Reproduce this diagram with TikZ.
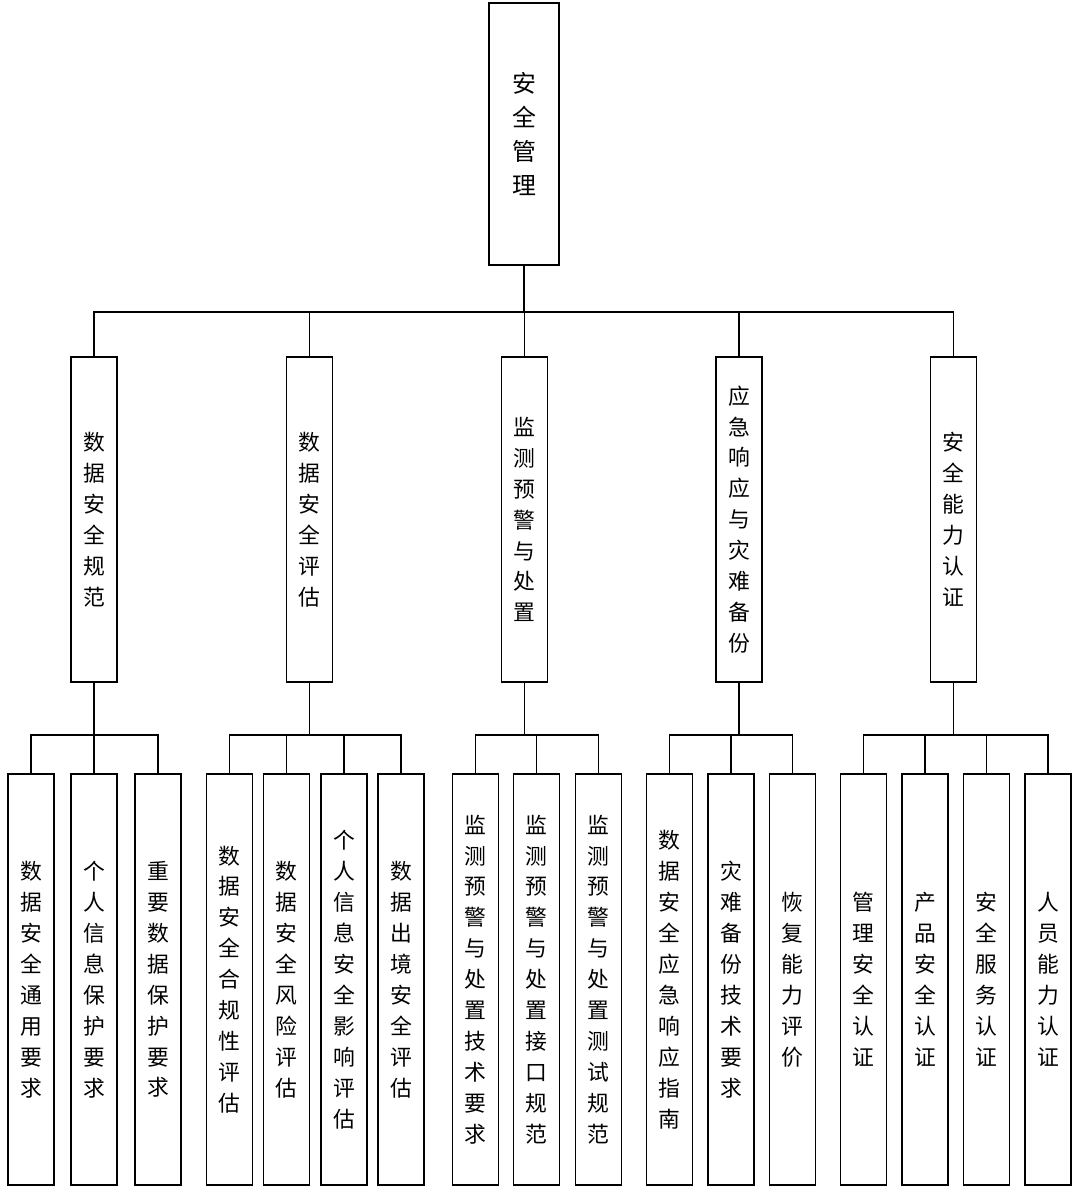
\documentclass[tikz,border=0pt]{standalone}
\usepackage{fontspec}
\newfontfamily\cjk{Noto Sans CJK SC}
\usetikzlibrary{positioning, calc}

\begin{document}
\begin{tikzpicture}[
    x=0.025cm, y=-0.025cm,
    every node/.style={font=\cjk\fontsize{15.5}{22}\selectfont, inner sep=0pt, align=center},
    rootbox/.style={draw, line width=1pt, minimum width=1.75cm, minimum height=6.55cm,
                    font=\cjk\fontsize{17}{24.2}\selectfont},
    catbox/.style={draw, line width=1pt, minimum width=1.15cm, minimum height=8.125cm},
    itembox/.style={draw, line width=1pt, minimum width=1.15cm, minimum height=10.275cm},
    link/.style={line width=1pt}
]
    \useasboundingbox (0,0) rectangle (1080,1193);

    % top
    \node[rootbox] (root) at (524,134) {安\\全\\管\\理};

    % second level
    \node[catbox] (cat1) at (94,519.5)    {数\\据\\安\\全\\规\\范};
    \node[catbox] (cat2) at (309.5,519.5) {数\\据\\安\\全\\评\\估};
    \node[catbox] (cat3) at (524.5,519.5) {监\\测\\预\\警\\与\\处\\置};
    \node[catbox] (cat4) at (739,519.5)   {应\\急\\响\\应\\与\\灾\\难\\备\\份};
    \node[catbox] (cat5) at (953.5,519.5) {安\\全\\能\\力\\认\\证};

    % third level
    \node[itembox] (it11) at (31,979.5)    {数\\据\\安\\全\\通\\用\\要\\求};
    \node[itembox] (it12) at (94,979.5)    {个\\人\\信\\息\\保\\护\\要\\求};
    \node[itembox] (it13) at (158,979.5)   {重\\要\\数\\据\\保\\护\\要\\求};

    \node[itembox] (it21) at (229.5,979.5) {数\\据\\安\\全\\合\\规\\性\\评\\估};
    \node[itembox] (it22) at (286.5,979.5) {数\\据\\安\\全\\风\\险\\评\\估};
    \node[itembox] (it23) at (344,979.5)   {个\\人\\信\\息\\安\\全\\影\\响\\评\\估};
    \node[itembox] (it24) at (401,979.5)   {数\\据\\出\\境\\安\\全\\评\\估};

    \node[itembox] (it31) at (475.5,979.5) {监\\测\\预\\警\\与\\处\\置\\技\\术\\要\\求};
    \node[itembox] (it32) at (536.5,979.5) {监\\测\\预\\警\\与\\处\\置\\接\\口\\规\\范};
    \node[itembox] (it33) at (598.5,979.5) {监\\测\\预\\警\\与\\处\\置\\测\\试\\规\\范};

    \node[itembox] (it41) at (669.5,979.5) {数\\据\\安\\全\\应\\急\\响\\应\\指\\南};
    \node[itembox] (it42) at (731,979.5)   {灾\\难\\备\\份\\技\\术\\要\\求};
    \node[itembox] (it43) at (792.5,979.5) {恢\\复\\能\\力\\评\\价};

    \node[itembox] (it51) at (863.5,979.5) {管\\理\\安\\全\\认\\证};
    \node[itembox] (it52) at (925,979.5)   {产\\品\\安\\全\\认\\证};
    \node[itembox] (it53) at (986.5,979.5) {安\\全\\服\\务\\认\\证};
    \node[itembox] (it54) at (1048,979.5)  {人\\员\\能\\力\\认\\证};

    % buses
    \coordinate (bus0) at (524,312);
    \coordinate (bus1) at (94,735);
    \coordinate (bus2) at (309.5,735);
    \coordinate (bus3) at (524.5,735);
    \coordinate (bus4) at (739,735);
    \coordinate (bus5) at (953.5,735);

    \draw[link] (root.south) -- (bus0);
    \foreach \c in {1,...,5}
        \draw[link] (cat\c.north) |- (bus0);

    \draw[link] (cat1.south) -- (bus1);
    \draw[link] (cat2.south) -- (bus2);
    \draw[link] (cat3.south) -- (bus3);
    \draw[link] (cat4.south) -- (bus4);
    \draw[link] (cat5.south) -- (bus5);

    \foreach \i in {1,2,3}
        \draw[link] (it1\i.north) |- (bus1);
    \foreach \i in {1,...,4}
        \draw[link] (it2\i.north) |- (bus2);
    \foreach \i in {1,2,3}
        \draw[link] (it3\i.north) |- (bus3);
    \foreach \i in {1,2,3}
        \draw[link] (it4\i.north) |- (bus4);
    \foreach \i in {1,...,4}
        \draw[link] (it5\i.north) |- (bus5);
\end{tikzpicture}
\end{document}
